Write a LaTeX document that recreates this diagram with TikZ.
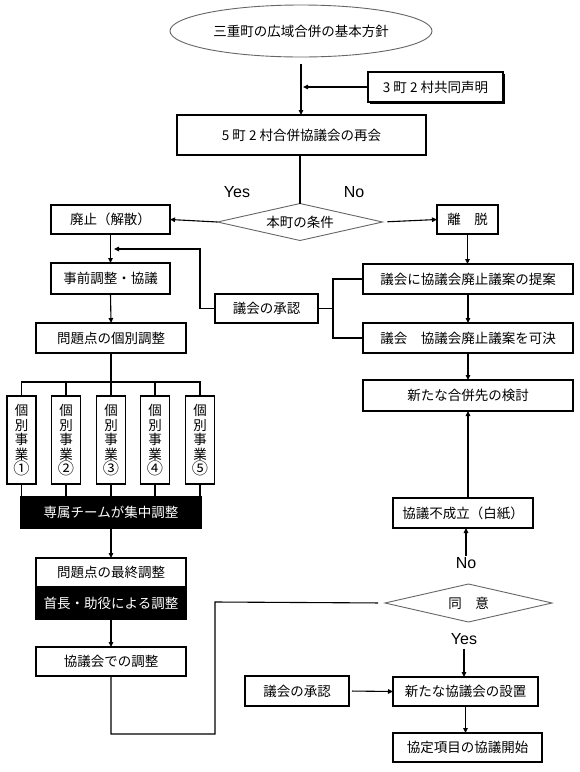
\documentclass[tikz,border=0pt]{standalone}
\usepackage{fontspec}
\setmainfont{Liberation Sans}
\newfontfamily\jp{Noto Sans CJK JP}
\usetikzlibrary{shapes.geometric,arrows.meta,shadows}
\newcommand{\cnum}[1]{\raisebox{-0.5pt}{\scalebox{1.2}{#1}}}
\begin{document}
\begin{tikzpicture}[x=1pt,y=-1pt,
  every node/.style={inner sep=0pt,outer sep=0pt},
  jpf/.style={font=\jp\fontsize{13.5}{16}\selectfont},
  bx/.style={draw=black,line width=1.2pt,fill=white,jpf,align=center},
  blk/.style={draw=black,fill=black,text=white,line width=1.2pt,jpf},
  vbx/.style={bx,minimum width=29pt,minimum height=88pt,font=\jp\fontsize{13.5}{14.5}\selectfont},
  ln/.style={draw=black,line width=1.1pt},
  arr/.style={ln,-{Triangle[length=5pt,width=4.5pt]}},
  lbl/.style={font=\fontsize{16}{18}\selectfont},
  dia/.style={diamond,draw=black!60,line width=0.9pt,aspect=4.5,jpf},
  shad/.style={drop shadow={opacity=1,fill=black,shadow xshift=1.5pt,shadow yshift=-1.5pt}}
]
\fill[white] (0,0) rectangle (580,772);
\useasboundingbox (0,0) rectangle (580,772);

% top
\node[ellipse,draw=black!60,line width=0.9pt,minimum width=262pt,minimum height=52pt,jpf] (ell) at (301,31) {三重町の広域合併の基本方針};
\node[bx,shad,minimum width=135pt,minimum height=30pt] (kyodo) at (435.5,87) {3 町 2 村共同声明};
\node[bx,minimum width=249pt,minimum height=40pt] (saikai) at (301.5,135) {5 町 2 村合併協議会の再会};
\node[dia,minimum width=165pt,minimum height=37pt] (joken) at (300,222) {本町の条件};
\node[lbl] (yes1) at (237,192) {Yes};
\node[lbl] (no1) at (354,192) {No};

% left column
\node[bx,minimum width=119pt,minimum height=29pt] (haishi) at (110.5,219.5) {廃止（解散）};
\node[bx,minimum width=119pt,minimum height=31pt] (jizen) at (110.5,278.5) {事前調整・協議};
\node[bx,minimum width=150pt,minimum height=30pt] (kobetsu) at (111,338) {問題点の個別調整};
\node[vbx] (jigyo1) at (21.5,440) {個\\別\\事\\業\\\cnum{①}};
\node[vbx] (jigyo2) at (66,440) {個\\別\\事\\業\\\cnum{②}};
\node[vbx] (jigyo3) at (111,440) {個\\別\\事\\業\\\cnum{③}};
\node[vbx] (jigyo4) at (155,440) {個\\別\\事\\業\\\cnum{④}};
\node[vbx] (jigyo5) at (200,440) {個\\別\\事\\業\\\cnum{⑤}};
\node[blk,minimum width=180pt,minimum height=31pt] (team) at (111,512.5) {専属チームが集中調整};
\node[bx,minimum width=150pt,minimum height=29pt] (saishu) at (111,572.5) {問題点の最終調整};
\node[blk,minimum width=150pt,minimum height=32pt] (shucho) at (111,603) {首長・助役による調整};
\node[bx,minimum width=150pt,minimum height=29pt] (kyogikai) at (111,661.5) {協議会での調整};

% middle
\node[bx,minimum width=103pt,minimum height=29pt] (shonin1) at (266.5,308.5) {議会の承認};
\node[bx,minimum width=104pt,minimum height=30pt] (shonin2) at (297,691) {議会の承認};

% right column
\node[bx,minimum width=61pt,minimum height=29pt] (ridatsu) at (467.5,219.5) {離　脱};
\node[bx,minimum width=210pt,minimum height=30pt] (teian) at (468,279) {議会に協議会廃止議案の提案};
\node[bx,minimum width=210pt,minimum height=30pt] (kaketsu) at (468,338) {議会　協議会廃止議案を可決};
\node[bx,line width=1.9pt,minimum width=210pt,minimum height=31pt] (shingappei) at (468,395.5) {新たな合併先の検討};
\node[bx,minimum width=140pt,minimum height=30pt] (fuseiritsu) at (463,513) {協議不成立（白紙）};
\node[lbl] (no2) at (466,563) {No};
\node[dia,minimum width=167pt,minimum height=38pt] (doi) at (468.5,603) {同　意};
\node[lbl] (yes2) at (464,639) {Yes};
\node[bx,minimum width=145pt,minimum height=29pt] (secchi) at (465.5,691.5) {新たな協議会の設置};
\node[bx,minimum width=149pt,minimum height=29pt] (kaishi) at (467.5,747.5) {協定項目の協議開始};

% coordinates
\coordinate (kj) at (303,87);
\coordinate (fbc) at (200,249);
\coordinate (fbe) at (114,249);
\coordinate (r0) at (111,734);
\coordinate (r1) at (215,602);

% connectors
\draw[arr,shorten <=7pt] (ell.south) -- (ell.south |- saikai.north);
\draw[arr] (kyodo.west) -- (kj);
\draw[ln] (joken.north |- saikai.south) -- (joken.north);
\draw[arr] (joken.west) -- (haishi.east);
\draw[arr,shorten <=5pt] (joken.east) -- (ridatsu.west);
\draw[arr] (haishi.south) -- (jizen.north);
\draw[arr] (shonin1.west) -| (fbc) -- (fbe);
\draw[arr] (jizen.south) -- (kobetsu.north);
\draw[ln] (kobetsu.south) -- (jigyo3.north);
\draw[ln] (jigyo1.north) -- ++(0,-14) -| (jigyo5.north);
\draw[ln] (jigyo2.north) -- ++(0,-14);
\draw[ln] (jigyo4.north) -- ++(0,-14);
\foreach \i in {1,...,5} {\draw[ln] (jigyo\i.south) -- (jigyo\i.south |- team.north);}
\draw[arr] (team.south) -- (saishu.north);
\draw[arr] (shucho.south) -- (kyogikai.north);
\draw[ln,shorten >=7pt] (kyogikai.south) -- (r0) -| (r1) -- (doi.west);
\draw[ln] (shonin1.east) -- ++(15,0);
\draw[ln] (teian.west) -- ++(-30,0) |- (kaketsu.west);
\draw[arr] (ridatsu.south) -- (ridatsu.south |- teian.north);
\draw[arr] (teian.south) -- (kaketsu.north);
\draw[arr] (kaketsu.south) -- (shingappei.north);
\draw[arr] (fuseiritsu.north -| shingappei.south) -- (shingappei.south);
\draw[arr,shorten <=1pt] (no2.north) -- (no2.north |- fuseiritsu.south);
\draw[arr,shorten <=4pt] (yes2.south) -- (yes2.south |- secchi.north);
\draw[arr,shorten <=3pt] (shonin2.east) -- (secchi.west);
\draw[arr] (secchi.south) -- (secchi.south |- kaishi.north);
\end{tikzpicture}
\end{document}
